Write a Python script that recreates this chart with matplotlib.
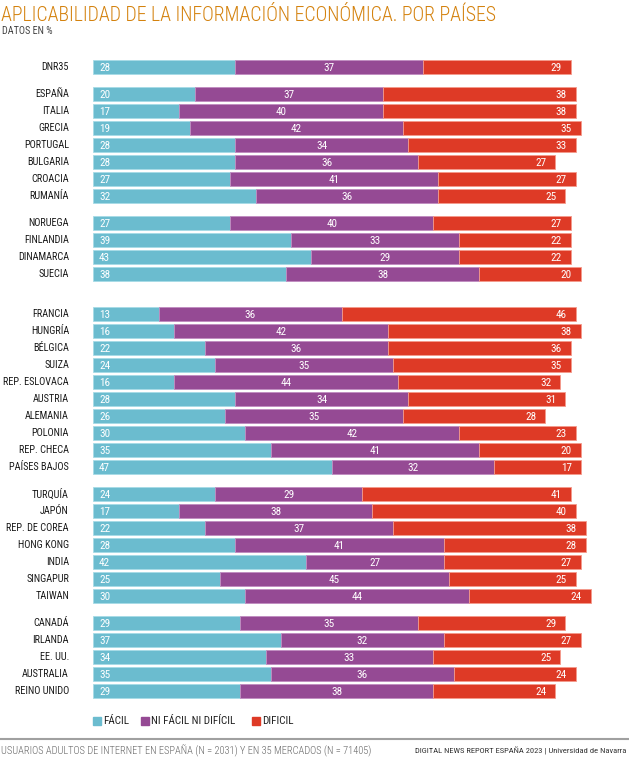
import matplotlib
matplotlib.use("Agg")
import matplotlib.pyplot as plt
from matplotlib.patches import Rectangle
from matplotlib.lines import Line2D

plt.rcParams['font.family'] = ['Roboto Condensed', 'Liberation Sans Narrow', 'Roboto', 'DejaVu Sans']

# data
grupos = [
    ["DNR35"],
    ["ESPAÑA", "ITALIA", "GRECIA", "PORTUGAL", "BULGARIA", "CROACIA", "RUMANÍA"],
    ["NORUEGA", "FINLANDIA", "DINAMARCA", "SUECIA"],
    ["FRANCIA", "HUNGRÍA", "BÉLGICA", "SUIZA", "REP. ESLOVACA", "AUSTRIA",
     "ALEMANIA", "POLONIA", "REP. CHECA", "PAÍSES BAJOS"],
    ["TURQUÍA", "JAPÓN", "REP. DE COREA", "HONG KONG", "INDIA", "SINGAPUR", "TAIWAN"],
    ["CANADÁ", "IRLANDA", "EE. UU.", "AUSTRALIA", "REINO UNIDO"],
]
facil = [28,
         20, 17, 19, 28, 28, 27, 32,
         27, 39, 43, 38,
         13, 16, 22, 24, 16, 28, 26, 30, 35, 47,
         24, 17, 22, 28, 42, 25, 30,
         29, 37, 34, 35, 29]
ni = [37,
      37, 40, 42, 34, 36, 41, 36,
      40, 33, 29, 38,
      36, 42, 36, 35, 44, 34, 35, 42, 41, 32,
      29, 38, 37, 41, 27, 45, 44,
      35, 32, 33, 36, 38]
dificil = [29,
           38, 38, 35, 33, 27, 27, 25,
           27, 22, 22, 20,
           46, 38, 36, 35, 32, 31, 28, 23, 20, 17,
           41, 40, 38, 28, 27, 25, 24,
           29, 27, 25, 24, 24]

c_facil = "#6bbccf"
c_ni = "#954a94"
c_dif = "#de3a26"
e_facil = "#a6dbe6"
e_ni = "#c08cc0"
e_dif = "#f49a8c"

# row positions (pixel units, top to bottom)
paises = []
ys = []
y = 67
gaps = [0, 27, 27, 40, 27, 27]
for g, gap in zip(grupos, gaps):
    y += gap
    for i, p in enumerate(g):
        if i > 0:
            y += 17
        paises.append(p)
        ys.append(y)

fig = plt.figure(figsize=(6.29, 7.68), dpi=100)
ax = fig.add_axes([93 / 629, 1 - 700 / 768, (600 - 93) / 629, (700 - 58) / 768])
ax.set_xlim(0, (600 - 93) / 5.08)
ax.set_ylim(700, 58)
ax.axis('off')

h = 13.5
px = 5.08
for p, yy, a, b, c in zip(paises, ys, facil, ni, dificil):
    ax.barh(yy, a, height=h, color=c_facil, edgecolor=e_facil, linewidth=0.6)
    ax.barh(yy, b, left=a, height=h, color=c_ni, edgecolor=e_ni, linewidth=0.6)
    ax.barh(yy, c, left=a + b, height=h, color=c_dif, edgecolor=e_dif, linewidth=0.6)
    ax.text(6 / px, yy + 0.5, str(a), color="white", fontsize=8, ha="left", va="center")
    ax.text(a + b / 2, yy + 0.5, str(b), color="white", fontsize=8, ha="center", va="center")
    ax.text(a + b + c - 9 / px, yy + 0.5, str(c), color="white", fontsize=8, ha="right", va="center")
    ax.text(-24 / px, yy, p, color="#1a1a1a", fontsize=7.4, ha="right", va="center")

fig.text(1 / 629, 1 - 21 / 768, "APLICABILIDAD DE LA INFORMACIÓN ECONÓMICA. POR PAÍSES",
         color="#d4820e", fontsize=14.3, fontweight="light", ha="left", va="baseline")
fig.text(2 / 629, 1 - 31 / 768, "DATOS EN %", color="#444444", fontsize=7.3,
         ha="left", va="center")

# legend
ly = 1 - 721 / 768
for x0, col, lab in [(93, c_facil, "FÁCIL"), (141, c_ni, "NI FÁCIL NI DIFÍCIL"),
                     (252, c_dif, "DIFICIL")]:
    fig.patches.append(Rectangle((x0 / 629, ly - 4 / 768), 8 / 629, 8 / 768,
                                 transform=fig.transFigure, color=col))
    fig.text((x0 + 10) / 629, ly, lab, color="#222222", fontsize=8,
             ha="left", va="center")

fig.lines.append(Line2D([0, 1], [1 - 739 / 768, 1 - 739 / 768], transform=fig.transFigure,
                        color="#a0a0a0", linewidth=1.5))
fig.text(1 / 629, 1 - 751 / 768,
         "USUARIOS ADULTOS DE INTERNET EN ESPAÑA (N = 2031) Y EN 35 MERCADOS (N = 71405)",
         color="#666666", fontsize=7.5, fontweight="light", ha="left", va="center")
fig.text(626 / 629, 1 - 751 / 768, "DIGITAL NEWS REPORT ESPAÑA 2023 | Universidad de Navarra",
         color="#333333", fontsize=6.1, ha="right", va="center")

fig.savefig("out.png", dpi=100)
